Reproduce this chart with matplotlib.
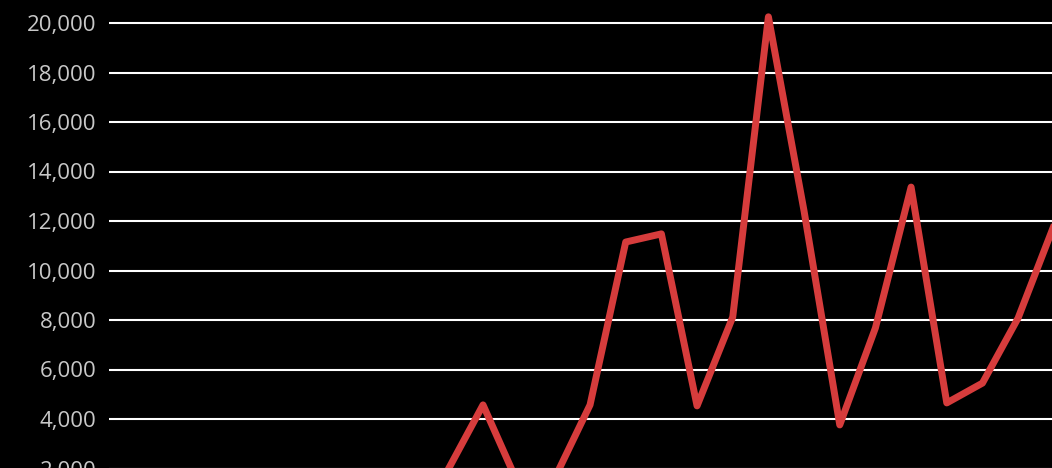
import matplotlib
matplotlib.use('Agg')
import matplotlib.pyplot as plt
from matplotlib.ticker import FuncFormatter

# значения ряда (левая часть уходит ниже видимой области)
points = list(range(27))
values = [300, 400, 350, 500, 600, 450, 700, 800, 1000, 1900,
          4570, 1330, 1580, 4570, 11150, 11480, 4530, 8120, 20250,
          12400, 3760, 7680, 13370, 4650, 5450, 8080, 11800]
y_ticks = [0, 2000, 4000, 6000, 8000, 10000, 12000, 14000, 16000, 18000, 20000]

plt.rcParams['font.family'] = ['Open Sans', 'DejaVu Sans']

fig = plt.figure(figsize=(10.52, 4.68), dpi=100, facecolor='black')
# ось выходит за нижний край картинки, как на обрезанном оригинале
ax = fig.add_axes([109 / 1052, -50 / 468, 1 - 109 / 1052, 519.75 / 468])
ax.set_facecolor('black')

ax.plot(points, values, color='#d63c3c', linewidth=5, solid_joinstyle='round', zorder=3)

ax.set_ylim(0, 21000)
ax.set_xlim(-0.485, 25.95)
ax.set_yticks(y_ticks)
ax.yaxis.set_major_formatter(FuncFormatter(lambda v, p: f'{int(v):,}'))
ax.set_xticks([])
ax.grid(axis='y', color='white', linewidth=1.5)
ax.tick_params(axis='y', length=0, pad=9, labelsize=16, labelcolor='#c8c8c8')
for s in ax.spines.values():
    s.set_visible(False)

fig.savefig('out.png', dpi=100, facecolor='black')
